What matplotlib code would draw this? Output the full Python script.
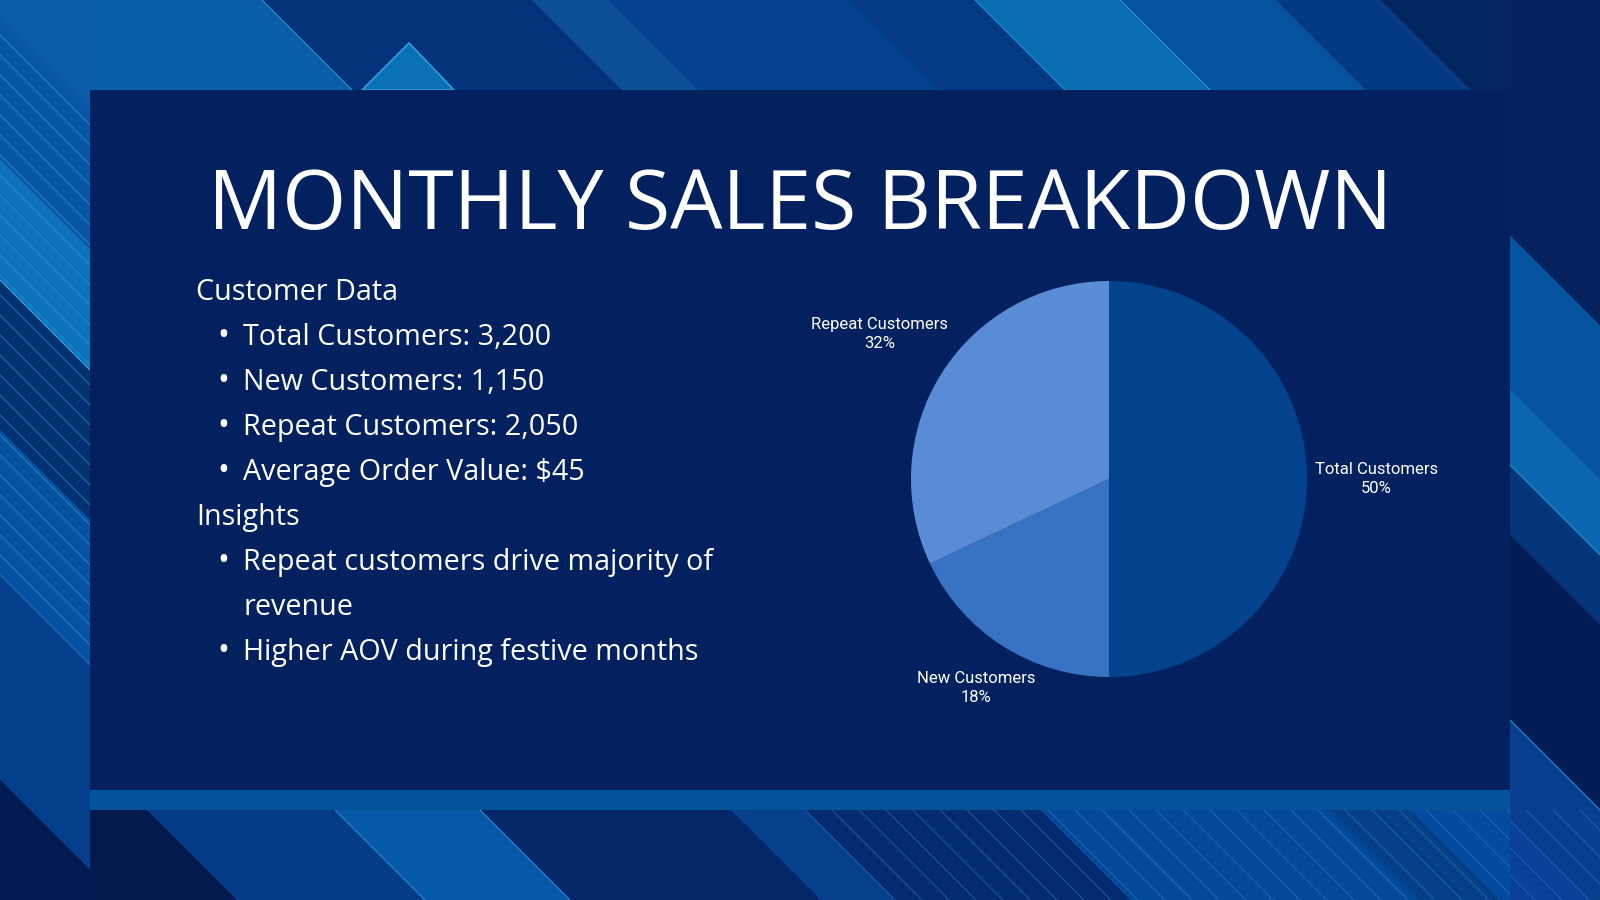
import numpy as np
import matplotlib.pyplot as plt
from matplotlib.colors import to_rgb
from matplotlib.patches import Rectangle, Polygon

# Canvas size in pixels (dpi 100)
W, H = 1600, 900

# Slide texts
title = "MONTHLY SALES BREAKDOWN"
section_customer = "Customer Data"
customer_items = ["Total Customers: 3,200", "New Customers: 1,150",
                  "Repeat Customers: 2,050", "Average Order Value: $45"]
section_insights = "Insights"
insight_items = ["Repeat customers drive majority of\nrevenue",
                 "Higher AOV during festive months"]

# Pie data
segments = ["Total Customers", "New Customers", "Repeat Customers"]
counts = [3200, 1150, 2050]
seg_colors = ["#03428c", "#3872c2", "#5a8cd6"]

# ---- decorative background (diagonal bands) ----
yy, xx = np.mgrid[0:H, 0:W] + 0.5
u = xx - yy
img = np.zeros((H, W, 3))


def paint(mask, edges, cols):
    idx = np.searchsorted(edges, u[mask])
    img[mask] = np.array([to_rgb(c) for c in cols])[idx]


def lines(mask, u0, u1, step, color, alpha):
    m = mask & (u >= u0) & (u <= u1)
    d = np.abs(((u[m] - u0 + step / 2) % step) - step / 2) / np.sqrt(2)
    a = alpha * np.clip(1 - d / 0.9, 0, 1)
    img[m] = img[m] * (1 - a[:, None]) + a[:, None] * np.array(to_rgb(color))


def edge(mask, ue, color, alpha=0.9):
    m = mask & (np.abs(u - ue) < 2)
    d = np.abs(u[m] - ue) / np.sqrt(2)
    a = alpha * np.clip(1 - d / 0.9, 0, 1)
    img[m] = img[m] * (1 - a[:, None]) + a[:, None] * np.array(to_rgb(color))


top = yy < 90
bottom = yy > 810
left = xx < 90
right = xx > 1510

paint(top, [262, 533, 608, 850, 975, 1120, 1275, 1380],
      ["#0a5fa9", "#04337a", "#0a4f98", "#044290", "#053b85",
       "#0a6cb1", "#05539f", "#043a82", "#032560"])
for ue in [262, 975, 1120]:
    edge(top, ue, "#2aa0e0")
edge(top, 533, "#1b6cb8", 0.6)

paint(bottom, [-662, -475, -330, -80, -5, 230, 520, 600],
      ["#031a4e", "#053a86", "#0658a8", "#032769", "#063f8b",
       "#032b6d", "#04489a", "#063e88", "#044a9e"])
for ue in [-475, -330]:
    edge(bottom, ue, "#2a9be0")
edge(bottom, -662, "#1c5cae", 0.6)
lines(bottom, -5, 800, 27, "#2a86d0", 0.55)

paint(left, [-780, -575, -430, -280, -160, -20],
      ["#031b50", "#053f8c", "#0552a0", "#03306f", "#0b72bb",
       "#0656a2", "#0a5ca8"])
lines(left, -575, -20, 20, "#3aa8e8", 0.55)
edge(left, -280, "#4ab8f0")

paint(right, [690, 790, 975, 1045, 1120, 1274],
      ["#0a3f98", "#0a3f8f", "#021c55", "#04347a", "#0a66ae",
       "#05539f", "#03225f"])
for ue in [790, 1045]:
    edge(right, ue, "#2aa0e0")
lines(right & (yy > 810), 500, 790, 27, "#2a86d0", 0.5)

fig = plt.figure(figsize=(16, 9), dpi=100)
ax = fig.add_axes([0, 0, 1, 1])
ax.imshow(img, extent=[0, W, H, 0], interpolation="bilinear")
ax.set_xlim(0, W)
ax.set_ylim(H, 0)
ax.axis("off")

# small triangle peeking over the panel
ax.add_patch(Polygon([(362, 90), (454, 90), (409, 43)], closed=True,
                     facecolor="#0a72b4", edgecolor="#2f9fe0", lw=1.2))

# ---- panel ----
ax.add_patch(Rectangle((90, 90), 1420, 720, facecolor="#03215f", lw=0))
ax.add_patch(Rectangle((90, 790), 1420, 20, facecolor="#04529a", lw=0))

renderer = fig.canvas.get_renderer()


def fit(txt, target):
    w = txt.get_window_extent(renderer).width
    txt.set_fontsize(txt.get_fontsize() * target / w)
    return txt.get_fontsize()


t = ax.text(800, 229, title, fontsize=60, color="white", ha="center",
            va="baseline", family="Open Sans")
fit(t, 1186)

# body text
probe = ax.text(0, 0, customer_items[0], fontsize=20, family="Open Sans")
body_size = fit(probe, 307)
probe.remove()

y0, step = 300, 45
rows = [(section_customer, False)]
rows += [(s, True) for s in customer_items]
rows += [(section_insights, False)]
for item in insight_items:
    for k, part in enumerate(item.split("\n")):
        rows.append((part, k == 0))

for i, (txt, bullet) in enumerate(rows):
    y = y0 + i * step
    if txt in (section_customer, section_insights):
        ax.text(196, y, txt, fontsize=body_size, color="white",
                va="baseline", family="Open Sans")
    else:
        if bullet:
            ax.text(223, y, "\u2022", fontsize=body_size * 1.1, color="white",
                    ha="center", va="baseline", family="Open Sans")
        ax.text(243, y, txt, fontsize=body_size, color="white",
                va="baseline", family="Open Sans")

# ---- pie ----
cx, cy, r = 1109, 479, 198
ax_pie = fig.add_axes([(cx - r) / W, (H - cy - r) / H, 2 * r / W, 2 * r / H])
wedges, _ = ax_pie.pie(counts, colors=seg_colors, startangle=90,
                       counterclock=False, radius=1,
                       wedgeprops=dict(linewidth=0))
ax_pie.set_xlim(-1, 1)
ax_pie.set_ylim(-1, 1)
ax_pie.set_aspect("equal")
ax_pie.axis("off")

probe = ax.text(0, 0, segments[0], fontsize=11, family="Roboto")
lab_size = fit(probe, 123)
probe.remove()

# labels: text box pushed out along the mid-angle until its nearest
# corner sits just outside the pie (gap radius in pixels)
gap = 1.04 * r
total = sum(counts)
for w, name, v in zip(wedges, segments, counts):
    ang = np.deg2rad((w.theta1 + w.theta2) / 2)
    c, s = np.cos(ang), np.sin(ang)
    c = 0.0 if abs(c) < 1e-9 else c
    s = 0.0 if abs(s) < 1e-9 else s
    lab = ax_pie.text(0, 0, f"{name}\n{v / total * 100:.0f}%", ha="center",
                      va="center", color="white", fontsize=lab_size,
                      family="Roboto", linespacing=1.3)
    bb = lab.get_window_extent(renderer)
    a, b = np.sign(c) * bb.width / 2, np.sign(s) * bb.height / 2
    p = a * c + b * s
    dist = p + np.sqrt(p * p - (a * a + b * b - gap * gap))
    lab.set_position((dist * c / r, dist * s / r))

fig.savefig("out.png", dpi=100)
